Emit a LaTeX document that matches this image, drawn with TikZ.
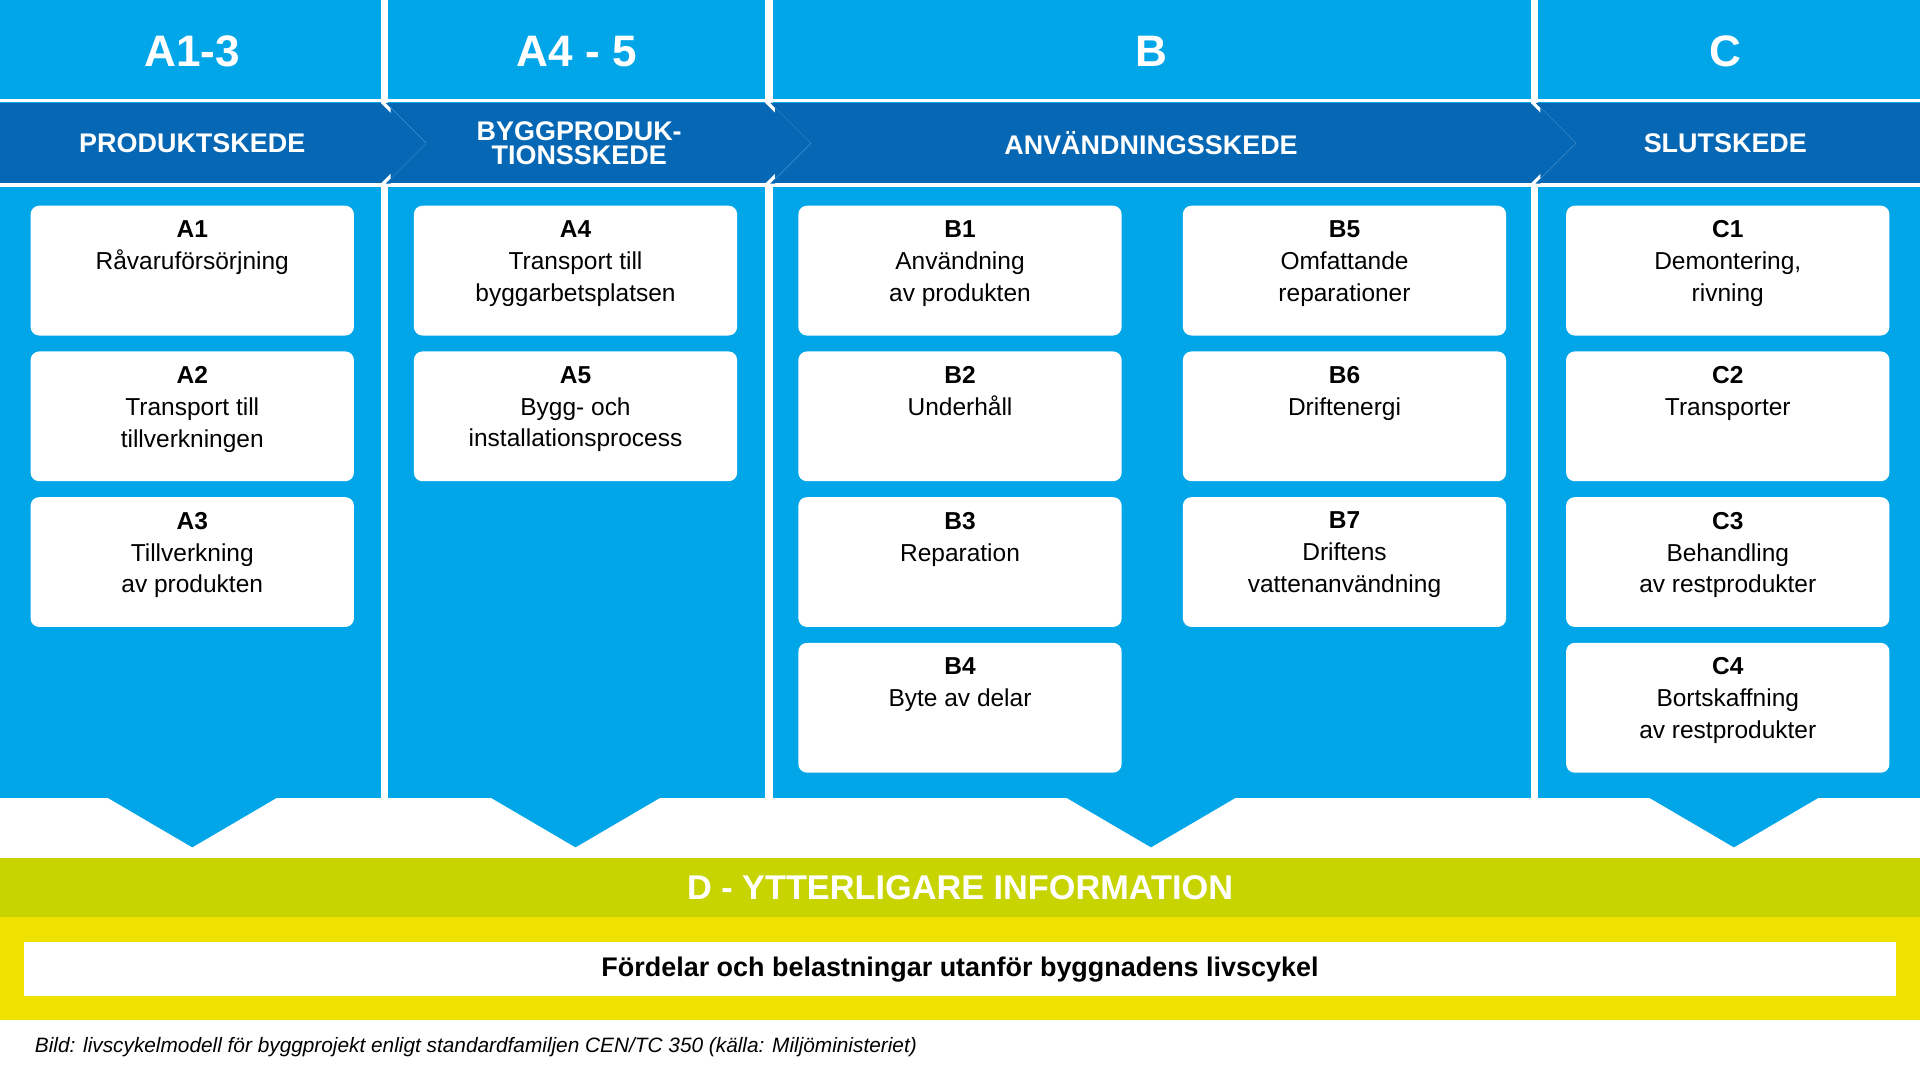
\documentclass[tikz,border=0pt]{standalone}
\usepackage{fontspec}
\setmainfont{Liberation Sans}
\begin{document}
\begin{tikzpicture}[x=1pt,y=-1pt,
  lb/.style={fill=lightblue,draw=none},
  card/.style={fill=white,rounded corners=7pt,draw=none},
  cardtxt/.style={align=center,font=\fontsize{20}{26}\selectfont,anchor=north,inner sep=0},
  hd/.style={text=white,font=\fontsize{36}{40}\bfseries\selectfont},
  sub/.style={text=white,font=\fontsize{22}{22}\bfseries\selectfont,align=center}]
\definecolor{lightblue}{RGB}{0,166,232}
\definecolor{darkblue}{RGB}{6,104,180}
\definecolor{lime}{RGB}{200,212,0}
\definecolor{yel}{RGB}{240,226,0}
\useasboundingbox (0,0) rectangle (1568,877);
\fill[white] (0,0) rectangle (1568,877);
% columns
\foreach \a/\b/\c in {0/311/157,317/625/470,631/1250/940,1256/1568/1416}{
  \fill[lightblue] (\a,0) rectangle (\b,652);
  \fill[lightblue] (\c-70,651) -- (\c+70,651) -- (\c,692) -- cycle;
}
% dark band
\fill[darkblue] (0,84) rectangle (1568,150);
\draw[white,line width=3pt] (0,82) -- (1568,82);
\draw[white,line width=3pt] (0,151) -- (1568,151);
\foreach \x in {311,625,1250}{
  \fill[white] (\x,84) -- (\x+4,84) -- (\x+37,117) -- (\x+4,150) -- (\x,150) -- (\x+33,117) -- cycle;
  \fill[darkblue] (\x+4,84) -- (\x+8,84) -- (\x+8,150) -- (\x+4,150) -- (\x+37,117) -- cycle;
}
\fill[white] (311,0) rectangle (317,82);
\fill[white] (625,0) rectangle (631,82);
\fill[white] (1250,0) rectangle (1256,82);
\fill[white] (311,151) rectangle (317,652);
\fill[white] (625,151) rectangle (631,652);
\fill[white] (1250,151) rectangle (1256,652);
% headings
\node[hd] (h1) at (157,42) {A1-3};
\node[hd] (h2) at (471,42) {A4 - 5};
\node[hd] (h3) at (940,42) {B};
\node[hd] (h4) at (1409,42) {C};
\node[sub] (s1) at (157,117) {PRODUKTSKEDE};
\node[sub] (s2) at (473,117) {BYGGPRODUK-\\[-2pt]TIONSSKEDE};
\node[sub] (s3) at (940,117) {ANVÄNDNINGSSKEDE};
\node[sub] (s4) at (1409,117) {SLUTSKEDE};
% cards
\foreach \x/\r/\t [count=\i] in {
 25/0/{\textbf{A1}\\Råvaruförsörjning},
 25/1/{\textbf{A2}\\Transport till\\tillverkningen},
 25/2/{\textbf{A3}\\Tillverkning\\av produkten},
 338/0/{\textbf{A4}\\Transport till\\byggarbetsplatsen},
 338/1/{\textbf{A5}\\Bygg- och\\installationsprocess},
 652/0/{\textbf{B1}\\Användning\\av produkten},
 652/1/{\textbf{B2}\\Underhåll},
 652/2/{\textbf{B3}\\Reparation},
 652/3/{\textbf{B4}\\Byte av delar},
 966/0/{\textbf{B5}\\Omfattande\\reparationer},
 966/1/{\textbf{B6}\\Driftenergi},
 966/2/{\textbf{B7}\\Driftens\\vattenanvändning},
 1279/0/{\textbf{C1}\\Demontering,\\rivning},
 1279/1/{\textbf{C2}\\Transporter},
 1279/2/{\textbf{C3}\\Behandling\\av restprodukter},
 1279/3/{\textbf{C4}\\Bortskaffning\\av restprodukter}}{
  \fill[card] (\x,168+119*\r) rectangle (\x+264,274+119*\r);
  \node[cardtxt] (c\i) at (\x+132,180+119*\r) {\t};
}
% D band
\fill[lime] (0,701) rectangle (1568,749);
\node[text=white,font=\fontsize{28}{28}\bfseries\selectfont] (d) at (784,725) {D - YTTERLIGARE INFORMATION};
\fill[yel] (0,749) rectangle (1568,833);
\fill[white] (20,769) rectangle (1548,813);
\node[font=\fontsize{22}{22}\bfseries\selectfont] (db) at (784,792) {Fördelar och belastningar utanför byggnadens livscykel};
\node[anchor=west,font=\fontsize{17}{17}\itshape\selectfont] (cap) at (25,855) {Bild: livscykelmodell för byggprojekt enligt standardfamiljen CEN/TC 350 (källa: Miljöministeriet)};
\end{tikzpicture}
\end{document}
